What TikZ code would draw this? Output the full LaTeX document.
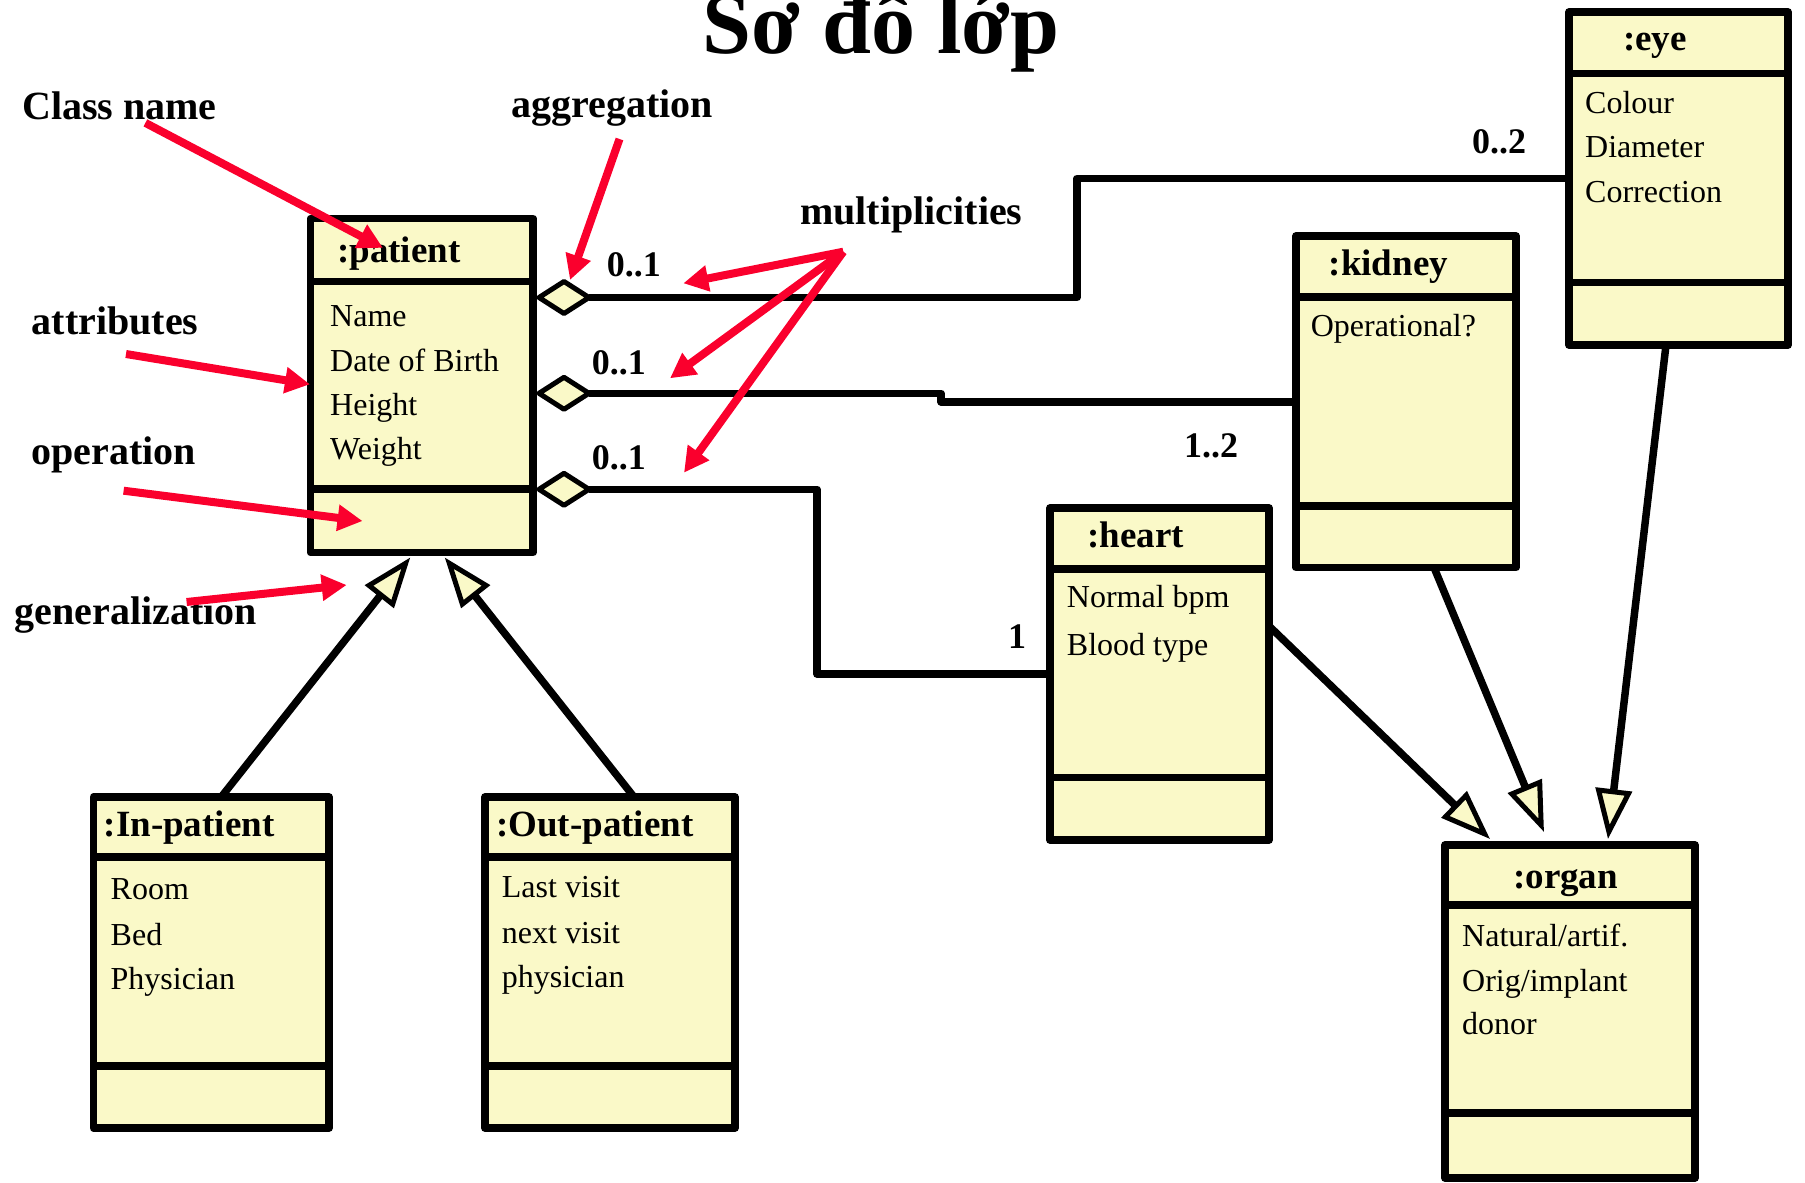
\documentclass[tikz,border=0pt]{standalone}
\usepackage{fontspec}
\setmainfont{Liberation Serif}
\usetikzlibrary{arrows.meta,shapes.geometric,calc}

\definecolor{umlyellow}{RGB}{250,249,200}
\definecolor{notered}{RGB}{250,0,45}

\tikzset{
  classbox/.style={draw, fill=umlyellow, line width=7.5pt, line join=round,
    inner sep=0pt, outer sep=0pt},
  divider/.style={draw, line width=7.5pt},
  classname/.style={anchor=base west, inner sep=0pt,
    font=\fontsize{37}{40}\selectfont\bfseries},
  attr/.style={anchor=base west, inner sep=0pt, font=\fontsize{32}{36}\selectfont},
  note/.style={anchor=base west, inner sep=0pt,
    font=\fontsize{40}{44}\selectfont\bfseries},
  mult/.style={anchor=base west, inner sep=0pt,
    font=\fontsize{36}{40}\selectfont\bfseries},
  assoc/.style={line width=7.5pt, line join=round},
  aggdiamond/.style={diamond, draw, fill=umlyellow, line width=5pt, line join=round,
    minimum width=50pt, minimum height=32pt, inner sep=0pt, outer sep=0pt},
  inherit/.style={line width=7.5pt,
    -{Triangle[length=50pt,width=36pt,fill=umlyellow,line width=5pt]}},
  pointer/.style={notered, line width=8pt, -{Triangle[length=25pt,width=25pt]}},
}

% class box: name, left, top, right, bottom, first divider, second divider
\newcommand\umlclass[7]{%
  \node[classbox, minimum width={#4-#2}, minimum height={#5-#3}]
    (#1) at ({(#2+#4)/2},{(#3+#5)/2}) {};
  \draw[divider] (#1.west |- 0,#6) -- (#1.east |- 0,#6);
  \draw[divider] (#1.west |- 0,#7) -- (#1.east |- 0,#7);
}
% attribute lines: node prefix, x, list of baseline/text
\newcommand\attrlines[3]{%
  \foreach \attry/\attrtxt [count=\attri] in {#3}
    \node[attr] (#1-\attri) at (#2,\attry) {\attrtxt};
}

\begin{document}
\begin{tikzpicture}[x=1pt,y=-1pt]
\useasboundingbox (0,0) rectangle (1805,1183);

% title
\node[anchor=base, inner sep=0pt, font=\fontsize{88}{92}\selectfont\bfseries]
  (title) at (881,53) {Sơ đồ lớp};

% classes
\umlclass{patient}{310.5}{218.5}{533}{552.5}{281.5}{489}
\umlclass{eye}{1569}{12}{1788}{345}{73.5}{282.5}
\umlclass{kidney}{1296}{236}{1516}{567.5}{297}{506}
\umlclass{heart}{1050}{508}{1269}{840}{569}{777.5}
\umlclass{organ}{1445}{845}{1695}{1178}{905}{1113}
\umlclass{inpat}{93.5}{797}{329}{1128}{857}{1066}
\umlclass{outpat}{485}{797}{735}{1128}{857}{1066}

\node[classname] (patient-name) at (337,262) {:patient};
\node[classname] (eye-name) at (1623,50) {:eye};
\node[classname] (kidney-name) at (1328.5,275.5) {:kidney};
\node[classname] (heart-name) at (1087,547) {:heart};
\node[classname] (organ-name) at (1513,888) {:organ};
\node[classname] (inpat-name) at (103.6,836.6) {:In-patient};
\node[classname] (outpat-name) at (496,836) {:Out-patient};

\attrlines{patient}{330}{326.7/Name, 371.7/Date of Birth, 415/Height, 459/Weight}
\attrlines{eye}{1585}{113.5/Colour, 157.5/Diameter, 202/Correction}
\attrlines{kidney}{1310.6}{336.5/Operational?}
\attrlines{heart}{1066.7}{607.8/Normal bpm, 655/Blood type}
\attrlines{organ}{1462}{946/{Natural/artif.}, 991/{Orig/implant}, 1034.7/donor}
\attrlines{inpat}{110.5}{899.7/Room, 945.7/Bed, 989.7/Physician}
\attrlines{outpat}{501.7}{897.8/Last visit, 943.7/next visit, 987.8/physician}

% aggregations
\node[aggdiamond] (agg1) at (564,297.5) {};
\node[aggdiamond] (agg2) at (564,393.3) {};
\node[aggdiamond] (agg3) at (564,489.3) {};

\coordinate (eyebend) at (1077,178.5);
\coordinate (kidjog) at (941,393.3);
\coordinate (heartbend) at (817,674);
\draw[assoc] (agg1.east) -| (eyebend) -- (eye.west);
\draw[assoc] (agg2.east) -- (kidjog) |- (kidney.west);
\draw[assoc] (agg3.east) -| (heartbend) -- (heart.west);

% multiplicities
\node[mult] (m1) at (606.7,276.7) {0..1};
\node[mult] (m2) at (591.7,374.3) {0..1};
\node[mult] (m3) at (591.7,469.3) {0..1};
\node[mult] (m-eye) at (1472,153) {0..2};
\node[mult] (m-kidney) at (1184,457) {1..2};
\node[mult] (m-heart) at (1008,648) {1};

% generalizations
\draw[inherit] ([xshift=10pt]inpat.north) -- ([xshift=-11.5pt,yshift=-5pt]patient.south);
\draw[inherit] ([xshift=24pt]outpat.north) -- ([xshift=23pt,yshift=-5pt]patient.south);
\draw[inherit] (heart.east |- 0,626) -- ([xshift=-80pt,yshift=6pt]organ.north);
\draw[inherit] ([xshift=28pt]kidney.south) -- ([xshift=-26pt,yshift=13pt]organ.north);
\draw[inherit] ([xshift=-12.5pt]eye.south) -- ([xshift=38pt,yshift=6pt]organ.north);

% annotation labels
\node[note] (lbl-class) at (22,119.5) {Class name};
\node[note] (lbl-attr) at (31.5,334) {attributes};
\node[note] (lbl-op) at (31.5,464) {operation};
\node[note] (lbl-gen) at (14.5,624.6) {generalization};
\node[note] (lbl-agg) at (511,117.5) {aggregation};
\node[note] (lbl-mult) at (800,224) {multiplicities};

% annotation pointers
\coordinate (pc-a) at (145.4,122.9);  \coordinate (pc-b) at (383,247.9);
\coordinate (pa-a) at (126,354);      \coordinate (pa-b) at (310,384.3);
\coordinate (po-a) at (123.6,490.7);  \coordinate (po-b) at (362.6,521);
\coordinate (pg-a) at (186.6,602);    \coordinate (pg-b) at (346.7,585);
\coordinate (pag-a) at (619.5,139);   \coordinate (pag-b) at (570,280);
\coordinate (pm-a) at (843.3,251.7);
\coordinate (pm-1) at (683.3,283.3);
\coordinate (pm-2) at (670,378.3);
\coordinate (pm-3) at (684,472.7);

\draw[pointer] (pc-a) -- (pc-b);
\draw[pointer] (pa-a) -- (pa-b);
\draw[pointer] (po-a) -- (po-b);
\draw[pointer] (pg-a) -- (pg-b);
\draw[pointer] (pag-a) -- (pag-b);
\draw[pointer] (pm-a) -- (pm-1);
\draw[pointer] (pm-a) -- (pm-2);
\draw[pointer] (pm-a) -- (pm-3);
\end{tikzpicture}
\end{document}
